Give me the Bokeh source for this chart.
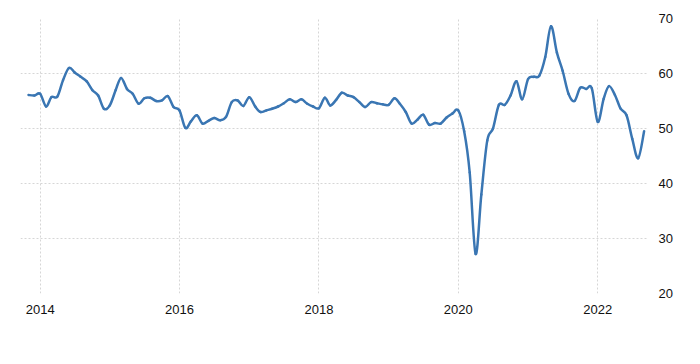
import pandas as pd
from datetime import datetime
from bokeh.plotting import figure
from bokeh.models import Range1d, FixedTicker, DatetimeTickFormatter, ColumnDataSource
from bokeh.embed import file_html
from bokeh.resources import INLINE

start_month = "2013-11-01"
values = [
    56.1, 56.0,
    56.3, 54.0, 55.7, 55.8, 58.8, 61.0, 60.2, 59.4, 58.6, 57.0, 56.0, 53.6,
    54.2, 57.0, 59.2, 57.2, 56.3, 54.5, 55.5, 55.6, 55.0, 55.1, 55.9, 53.9,
    53.3, 50.1, 51.3, 52.4, 50.9, 51.4, 51.9, 51.5, 52.1, 54.8, 55.1, 54.1,
    55.7, 54.0, 53.0, 53.3, 53.6, 54.0, 54.6, 55.3, 54.8, 55.3, 54.5, 54.0,
    53.7, 55.6, 54.2, 55.2, 56.5, 56.0, 55.7, 54.8, 53.9, 54.8, 54.6, 54.4,
    54.3, 55.5, 54.5, 53.0, 50.9, 51.6, 52.5, 50.7, 51.0, 50.9, 52.0, 52.7,
    53.3, 49.5, 42.0, 27.2, 38.0, 47.8, 50.0, 54.3, 54.3, 56.0, 58.6, 55.3,
    59.0, 59.4, 59.6, 63.0, 68.6, 63.8, 60.5, 56.3, 55.0, 57.4, 57.2, 57.3,
    51.2, 55.4, 57.7, 56.1, 53.6, 52.4, 48.1, 44.6, 49.5,
]
tick_years = [2014, 2016, 2018, 2020, 2022]
y_ticks = [20, 30, 40, 50, 60, 70]

dates = pd.date_range(start_month, periods=len(values), freq="MS")
xs = [d.value / 1e6 for d in dates]
ys = list(values)

# smooth rendering: Catmull-Rom segments drawn as Bokeh bezier glyphs through the data points
n = len(xs)
seg = dict(x0=[], y0=[], x1=[], y1=[], cx0=[], cy0=[], cx1=[], cy1=[])
for i in range(n - 1):
    xp, yp = (xs[i - 1], ys[i - 1]) if i > 0 else (xs[i], ys[i])
    xn, yn = (xs[i + 2], ys[i + 2]) if i + 2 < n else (xs[i + 1], ys[i + 1])
    seg["x0"].append(xs[i]); seg["y0"].append(ys[i])
    seg["x1"].append(xs[i + 1]); seg["y1"].append(ys[i + 1])
    seg["cx0"].append(xs[i] + (xs[i + 1] - xp) / 6)
    seg["cy0"].append(ys[i] + (ys[i + 1] - yp) / 6)
    seg["cx1"].append(xs[i + 1] - (xn - xs[i]) / 6)
    seg["cy1"].append(ys[i + 1] - (yn - ys[i]) / 6)
src = ColumnDataSource(seg)

p = figure(width=700, height=364, x_axis_type="datetime", y_axis_location="right",
           output_backend="svg", toolbar_location=None,
           x_range=Range1d(datetime(2013, 9, 20), datetime(2022, 9, 24)),
           y_range=Range1d(20, 70),
           min_border_left=20, min_border_right=52, min_border_top=18, min_border_bottom=71)
p.outline_line_color = None
p.background_fill_color = "white"
p.border_fill_color = "white"

p.bezier(x0="x0", y0="y0", x1="x1", y1="y1", cx0="cx0", cy0="cy0", cx1="cx1", cy1="cy1",
         source=src, line_color="#3a76b3", line_width=2.5, line_cap="round")

tick_ms = [pd.Timestamp(f"{y}-01-01").value / 1e6 for y in tick_years]
p.xaxis.ticker = FixedTicker(ticks=tick_ms)
p.xaxis.formatter = DatetimeTickFormatter(years="%Y", months="%Y", days="%Y", hours="%Y")
p.yaxis.ticker = FixedTicker(ticks=y_ticks)

for ax in (p.xaxis, p.yaxis):
    ax.axis_line_color = None
    ax.major_tick_line_color = None
    ax.minor_tick_line_color = None
    ax.major_label_text_font = "Liberation Sans"
    ax.major_label_text_font_size = "13px"
    ax.major_label_text_color = "#111111"
p.xaxis.major_label_standoff = 5
p.yaxis.major_label_standoff = 4

for g in (p.xgrid, p.ygrid):
    g.grid_line_color = "#d6d6d6"
    g.grid_line_dash = "2 2"
    g.grid_line_width = 1
p.xgrid.ticker = p.xaxis.ticker
p.ygrid.ticker = p.yaxis.ticker

open("out.html", "w").write(file_html(p, INLINE))
